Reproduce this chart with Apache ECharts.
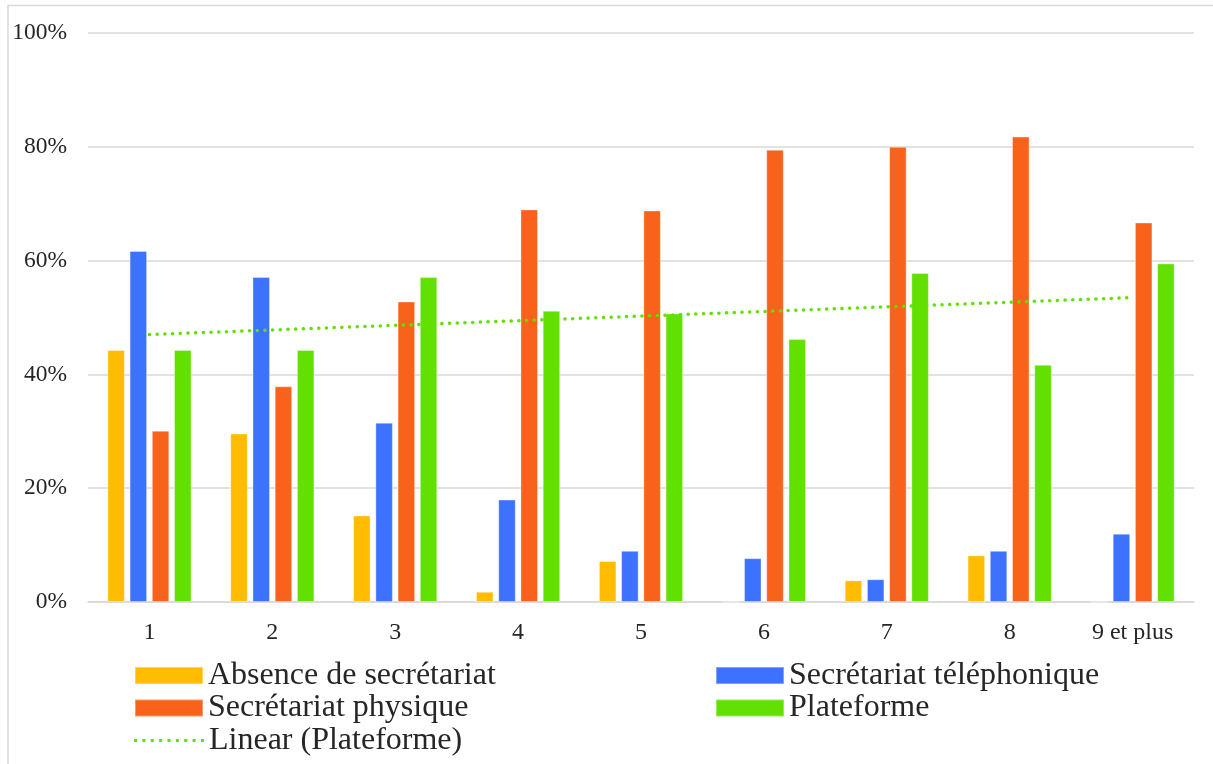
<!DOCTYPE html>
<html>
<head>
<meta charset="utf-8">
<script src="https://cdn.jsdelivr.net/npm/echarts@6/dist/echarts.min.js"></script>
<style>
html,body{margin:0;padding:0;background:#fff;}
#chart{width:1213px;height:764px;}
</style>
</head>
<body>
<div id="chart"></div>
<script>
const categories = ['1', '2', '3', '4', '5', '6', '7', '8', '9 et plus'];
const absence = [44.3, 29.6, 15.2, 1.8, 7.2, 0, 3.8, 8.2, 0];
const telephonique = [61.7, 57.1, 31.5, 18.0, 9.0, 7.7, 4.0, 9.0, 12.0];
const physique = [30.1, 37.9, 52.8, 69.0, 68.8, 79.5, 80.0, 81.8, 66.7];
const plateforme = [44.3, 44.3, 57.1, 51.2, 50.7, 46.2, 57.8, 41.7, 59.5];
// trendline endpoints (first and last category)
const trendline = [47.0, null, null, null, null, null, null, null, 53.5];
const yTicks = [0, 20, 40, 60, 80, 100];

const FONT = '"Liberation Serif", "Times New Roman", serif';
const TXT = '#262626';

const chart = echarts.init(document.getElementById('chart'), null, {renderer: 'canvas'});

function bar(name, data, color) {
  return {
    name: name, type: 'bar', data: data,
    barWidth: 17.5, barGap: '27%',
    itemStyle: {color: color, borderColor: 'rgba(255,255,255,0.35)', borderWidth: 1},
    emphasis: {disabled: true}
  };
}

// dotted legend icon: 9 small dots
let dotPath = 'path://';
for (let i = 0; i < 9; i++) {
  const x = i * 8.2;
  dotPath += 'M' + x + ',0h3v3h-3z';
}

function leg(name, left, top, icon, w, h) {
  return {
    orient: 'horizontal', left: left, top: top, padding: 0,
    itemWidth: w || 68, itemHeight: h || 17, itemGap: 0,
    selectedMode: false,
    textStyle: {color: TXT, fontFamily: FONT, fontSize: 32, lineHeight: 33},
    data: [{name: name, icon: icon || 'rect'}]
  };
}

chart.setOption({
  animation: false,
  backgroundColor: '#fff',
  graphic: [{
    type: 'rect', x: 8, y: 5.5, z: -1, silent: true,
    shape: {width: 1230, height: 780},
    style: {fill: 'none', stroke: '#D9D9D9', lineWidth: 1.5}
  }],
  grid: {left: 88, right: 19, top: 33, bottom: 162, containLabel: false},
  xAxis: {
    type: 'category', data: categories,
    axisLine: {lineStyle: {color: '#D9D9D9', width: 1.5}},
    axisTick: {show: false},
    axisLabel: {color: TXT, fontFamily: FONT, fontSize: 24, margin: 19}
  },
  yAxis: {
    type: 'value', min: 0, max: 100, interval: 20,
    axisLine: {show: false}, axisTick: {show: false},
    splitLine: {lineStyle: {color: '#D9D9D9', width: 1.5}},
    axisLabel: {color: TXT, fontFamily: FONT, fontSize: 23.5, margin: 21,
      formatter: function (v) { return yTicks.indexOf(v) >= 0 ? v + '%' : ''; }}
  },
  legend: [
    leg('Absence de secrétariat', 134, 659),
    leg('Secrétariat téléphonique', 715, 659),
    leg('Secrétariat physique', 134, 691.5),
    leg('Plateforme', 715, 691.5),
    leg('Linear (Plateforme)', 134, 724, dotPath, 70, 3.5)
  ],
  series: [
    bar('Absence de secrétariat', absence, '#FFBC00'),
    bar('Secrétariat téléphonique', telephonique, '#3D71FF'),
    bar('Secrétariat physique', physique, '#F8621A'),
    bar('Plateforme', plateforme, '#62E000'),
    {
      name: 'Linear (Plateforme)', type: 'line', data: trendline,
      connectNulls: true, symbol: 'none', z: 5,
      lineStyle: {color: '#62E000', width: 3.5, type: [0.1, 7.6], cap: 'round'},
      itemStyle: {color: '#62E000'},
      emphasis: {disabled: true}
    }
  ]
});
</script>
</body>
</html>
